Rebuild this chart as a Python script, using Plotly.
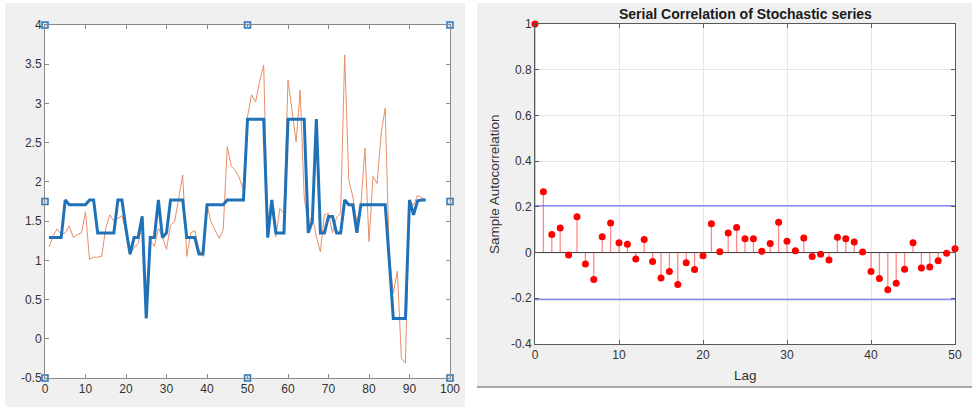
import plotly.graph_objects as go

# ---------------- data: left panel (time series) ----------------
t_index = list(range(1, 95))
observed = [1.17, 1.31, 1.40, 1.33, 1.35, 1.44, 1.29, 1.33, 1.35, 1.62,
            1.01, 1.04, 1.04, 1.05, 1.41, 1.58, 1.50, 1.54, 1.57, 1.35,
            1.07, 1.17, 1.21, 1.48, 0.35, 1.24, 1.18, 1.41, 1.30, 1.14,
            1.45, 1.49, 1.77, 2.09, 1.05, 1.35, 1.38, 1.14, 1.05, 1.71,
            1.49, 1.39, 1.28, 1.39, 2.45, 2.20, 2.15, 2.05, 1.90, 2.83,
            3.11, 3.02, 3.28, 3.49, 1.35, 1.70, 1.30, 1.66, 1.60, 3.30,
            2.92, 2.51, 3.17, 1.81, 1.45, 1.58, 1.30, 1.11, 1.58, 1.60,
            1.35, 1.55, 1.60, 3.62, 2.03, 1.81, 1.49, 1.71, 2.43, 1.24,
            2.07, 1.98, 2.62, 2.94, 1.05, 0.58, 0.86, -0.25, -0.31, 1.77,
            1.70, 1.83, 1.80, 1.77]
fitted = [1.29, 1.29, 1.29, 1.29, 1.77, 1.71, 1.71, 1.71, 1.71, 1.71,
          1.77, 1.77, 1.35, 1.35, 1.35, 1.35, 1.35, 1.77, 1.77, 1.40,
          1.08, 1.29, 1.29, 1.56, 0.26, 1.29, 1.29, 1.77, 1.29, 1.35,
          1.77, 1.77, 1.77, 1.77, 1.29, 1.29, 1.29, 1.08, 1.08, 1.71,
          1.71, 1.71, 1.71, 1.71, 1.77, 1.77, 1.77, 1.77, 1.77, 2.80,
          2.80, 2.80, 2.80, 2.80, 1.29, 1.77, 1.35, 1.35, 1.35, 2.80,
          2.80, 2.80, 2.80, 2.80, 1.35, 1.50, 2.80, 1.35, 1.35, 1.56,
          1.56, 1.35, 1.35, 1.77, 1.71, 1.71, 1.35, 1.71, 1.71, 1.71,
          1.71, 1.71, 1.71, 1.71, 1.00, 0.26, 0.26, 0.26, 0.26, 1.77,
          1.58, 1.76, 1.77, 1.77]
left_xticks = [0, 10, 20, 30, 40, 50, 60, 70, 80, 90, 100]
left_yticks = [-0.5, 0, 0.5, 1, 1.5, 2, 2.5, 3, 3.5, 4]
left_ytext = ["-0.5", "0", "0.5", "1", "1.5", "2", "2.5", "3", "3.5", "4"]
handle_x = [0, 50, 100, 0, 100, 0, 50, 100]
handle_y = [4, 4, 4, 1.75, 1.75, -0.5, -0.5, -0.5]

# ---------------- data: right panel (ACF) ----------------
lags = list(range(0, 51))
acf = [1.0, 0.266, 0.079, 0.107, -0.011, 0.157, -0.050, -0.118, 0.069, 0.129,
       0.043, 0.036, -0.028, 0.057, -0.039, -0.111, -0.083, -0.140, -0.045, -0.074,
       -0.014, 0.126, 0.004, 0.086, 0.110, 0.060, 0.061, 0.006, 0.040, 0.133,
       0.050, 0.008, 0.064, -0.017, -0.007, -0.033, 0.067, 0.060, 0.046, 0.003,
       -0.083, -0.113, -0.163, -0.134, -0.073, 0.043, -0.067, -0.063, -0.036, -0.003,
       0.017]
conf_bound = 0.205
right_xticks = [0, 10, 20, 30, 40, 50]
right_yticks = [-0.4, -0.2, 0, 0.2, 0.4, 0.6, 0.8, 1]
right_ytext = ["-0.4", "-0.2", "0", "0.2", "0.4", "0.6", "0.8", "1"]

W, H = 972, 407
def px(x):
    return x / W
def py(y):
    return (H - y) / H

FONT = "Liberation Sans, Arial, sans-serif"
TICKC = "#333333"

fig = go.Figure()

# left panel traces
fig.add_trace(go.Scatter(x=t_index, y=observed, mode="lines",
                         line=dict(color="#D95319", width=1), opacity=0.65,
                         xaxis="x", yaxis="y", showlegend=False, hoverinfo="skip"))
fig.add_trace(go.Scatter(x=t_index, y=fitted, mode="lines",
                         line=dict(color="#1f72b8", width=3),
                         xaxis="x", yaxis="y", showlegend=False, hoverinfo="skip"))
fig.add_trace(go.Scatter(x=handle_x, y=handle_y, mode="markers",
                         marker=dict(symbol="square", size=6, color="#d9e6f2",
                                     line=dict(color="#2e75b6", width=1.5)),
                         cliponaxis=False, xaxis="x", yaxis="y",
                         showlegend=False, hoverinfo="skip"))

# right panel traces
fig.add_trace(go.Scatter(x=[lags[0], lags[-1]], y=[0, 0], mode="lines",
                         line=dict(color="#3a3a3a", width=1),
                         xaxis="x2", yaxis="y2", showlegend=False, hoverinfo="skip"))
for b in (conf_bound, -conf_bound):
    fig.add_trace(go.Scatter(x=[lags[0], lags[-1]], y=[b, b], mode="lines",
                             line=dict(color="#8a8aff", width=1.6),
                             xaxis="x2", yaxis="y2", showlegend=False, hoverinfo="skip"))
stem_x, stem_y = [], []
for lg, v in zip(lags, acf):
    stem_x += [lg, lg, None]
    stem_y += [0, v, None]
fig.add_trace(go.Scatter(x=stem_x, y=stem_y, mode="lines",
                         line=dict(color="rgba(255,40,40,0.55)", width=1.3),
                         cliponaxis=False, xaxis="x2", yaxis="y2",
                         showlegend=False, hoverinfo="skip"))
fig.add_trace(go.Scatter(x=lags, y=acf, mode="markers",
                         marker=dict(color="#ff0000", size=7),
                         cliponaxis=False, xaxis="x2", yaxis="y2",
                         showlegend=False, hoverinfo="skip"))

common_ax = dict(ticks="inside", ticklen=4, showline=True, mirror="ticks",
                 zeroline=False, automargin=False,
                 tickfont=dict(family=FONT, size=12, color=TICKC))

def rect(x0, x1, y0, y1, color):
    return dict(type="rect", xref="paper", yref="paper", x0=px(x0), x1=px(x1),
                y0=py(y1), y1=py(y0), fillcolor=color, line=dict(width=0),
                layer="below")

fig.update_layout(
    width=W, height=H, autosize=False,
    margin=dict(l=0, r=0, t=0, b=0, pad=0, autoexpand=False),
    paper_bgcolor="white", plot_bgcolor="white",
    xaxis=dict(domain=[px(45), px(450)], range=[0, 100], tickvals=left_xticks,
               anchor="y", showgrid=False, linecolor="#8a8a8a", tickcolor="#8a8a8a",
               **common_ax),
    yaxis=dict(domain=[py(378), py(25)], range=[-0.5, 4], tickvals=left_yticks,
               ticktext=left_ytext, anchor="x", showgrid=False,
               linecolor="#8a8a8a", tickcolor="#8a8a8a", **common_ax),
    xaxis2=dict(domain=[px(535), px(955)], range=[0, 50], tickvals=right_xticks,
                anchor="y2", showgrid=True, gridcolor="#e6e6e6",
                linecolor="#5a5a5a", tickcolor="#5a5a5a", **common_ax),
    yaxis2=dict(domain=[py(344), py(24)], range=[-0.4, 1], tickvals=right_yticks,
                ticktext=right_ytext, anchor="x2", showgrid=True, gridcolor="#e6e6e6",
                linecolor="#5a5a5a", tickcolor="#5a5a5a", **common_ax),
    shapes=[
        rect(5, 465, 3, 407, "#f0f0f0"),
        rect(477, 972, 3, 387, "#f0f0f0"),
        rect(45, 450, 25, 378, "white"),
        rect(535, 955, 24, 344, "white"),
        dict(type="line", xref="paper", yref="paper", x0=px(477), x1=1,
             y0=py(387), y1=py(387), line=dict(color="#555555", width=1)),
    ],
    annotations=[
        dict(text="<b>Serial Correlation of Stochastic series</b>", xref="paper", yref="paper",
             x=px(745), y=py(14), showarrow=False, xanchor="center", yanchor="middle",
             font=dict(family=FONT, size=14, color="#1a1a1a")),
        dict(text="Lag", xref="paper", yref="paper", x=px(745), y=py(375),
             showarrow=False, xanchor="center", yanchor="middle",
             font=dict(family=FONT, size=13.5, color="#333333")),
        dict(text="Sample Autocorrelation", xref="paper", yref="paper", x=px(495),
             y=py(184), showarrow=False, textangle=-90, xanchor="center",
             yanchor="middle", font=dict(family=FONT, size=13.5, color="#333333")),
    ],
)

fig.write_html("out.html", config={"displayModeBar": False},
               post_script="document.body.style.margin='0px';document.body.style.overflow='hidden';")
